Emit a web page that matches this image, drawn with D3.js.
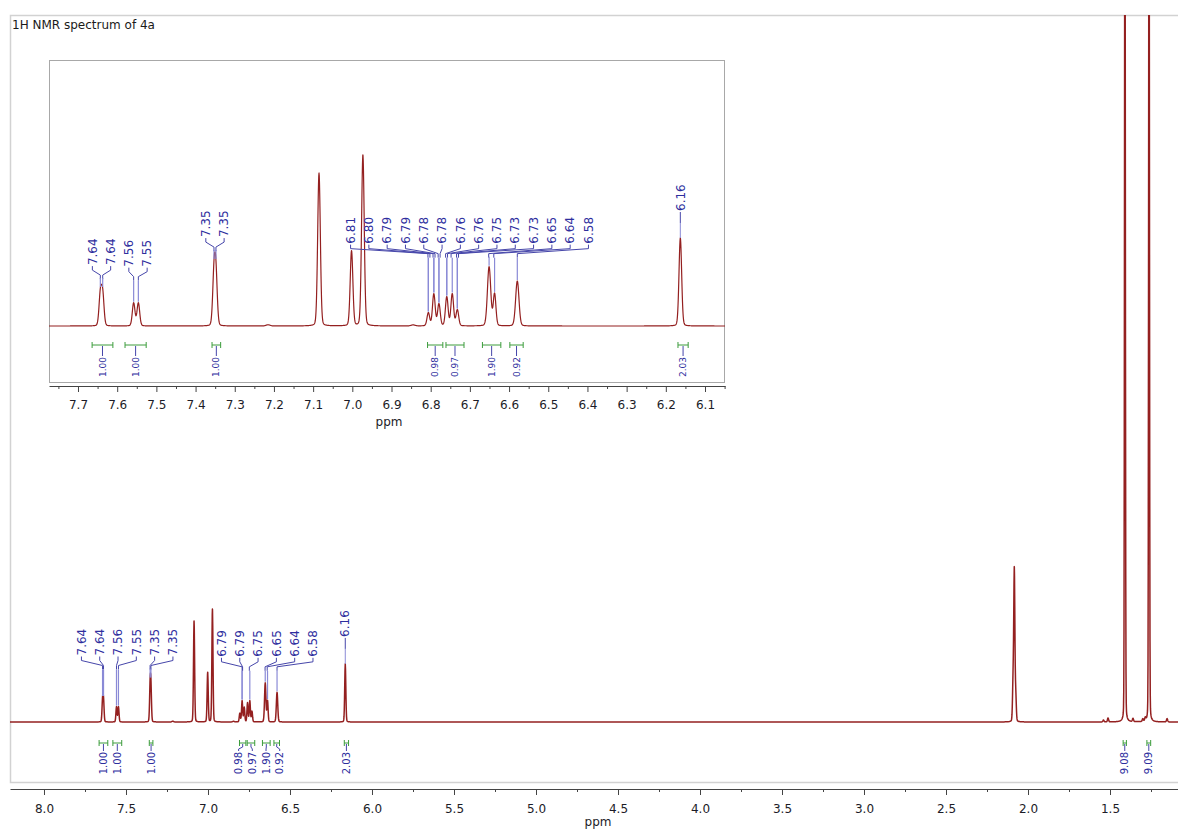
<!DOCTYPE html>
<html>
<head>
<meta charset="utf-8">
<script src="https://cdn.jsdelivr.net/npm/d3@7"></script>
<style>
  body { margin: 0; background: #fff; }
  svg { display: block; font-family: "DejaVu Sans", Verdana, sans-serif; }
</style>
</head>
<body>
<svg id="chart" width="1178" height="830"></svg>
<script>
// ---- 1H NMR of 4a: resonances (shift in ppm, intensity, half width in ppm) ----
const peakShifts  = [7.643, 7.637, 7.558, 7.546, 7.353, 7.348, 7.215, 7.085, 7.002, 6.973,
                     6.845, 6.806, 6.792, 6.779, 6.759, 6.745, 6.732, 6.651, 6.637, 6.579,
                     6.163, 2.091, 2.0835, 2.075, 1.540, 1.512, 1.409, 1.360, 1.300, 1.285,
                     1.262, 1.152];
const peakHeights = [31, 31, 23, 23, 49, 49, 1.2, 153, 75, 171,
                     1, 13, 32, 22, 29, 32, 16, 59, 32, 45,
                     88, 58, 227, 40, 3, 6, 1400, 5, 4, 5,
                     1400, 5];
const peakWidths  = [0.004, 0.004, 0.004, 0.004, 0.004, 0.004, 0.006, 0.004, 0.004, 0.004,
                     0.006, 0.004, 0.004, 0.004, 0.004, 0.004, 0.004, 0.005, 0.004, 0.005,
                     0.004, 0.004, 0.004, 0.004, 0.004, 0.004, 0.003, 0.004, 0.004, 0.004,
                     0.003, 0.004];

// picked peaks (labels) in the expanded aromatic region and in the full spectrum
const insetPicks = [7.643, 7.637, 7.558, 7.546, 7.353, 7.348,
                    6.807, 6.802, 6.794, 6.789, 6.781, 6.776, 6.762, 6.757, 6.748, 6.734, 6.729,
                    6.652, 6.639, 6.579, 6.163];
const mainPicks  = [7.643, 7.637, 7.558, 7.546, 7.353, 7.348,
                    6.792, 6.789, 6.748, 6.652, 6.639, 6.579, 6.163];

// integration regions (ppm from, ppm to) and integral values
const integralFrom   = [7.664, 7.580, 7.358, 6.808, 6.761, 6.668, 6.598, 6.169, 1.420, 1.275];
const integralTo     = [7.611, 7.526, 7.336, 6.769, 6.715, 6.621, 6.564, 6.143, 1.400, 1.252];
const integralValues = [1.00, 1.00, 1.00, 0.98, 0.97, 1.90, 0.92, 2.03, 9.08, 9.09];

// axis ticks
const mainMajorTicks  = [8.0, 7.5, 7.0, 6.5, 6.0, 5.5, 5.0, 4.5, 4.0, 3.5, 3.0, 2.5, 2.0, 1.5];
const mainMinorTicks  = [7.75, 7.25, 6.75, 6.25, 5.75, 5.25, 4.75, 4.25, 3.75, 3.25, 2.75, 2.25, 1.75, 1.25];
const insetMajorTicks = [7.7, 7.6, 7.5, 7.4, 7.3, 7.2, 7.1, 7.0, 6.9, 6.8, 6.7, 6.6, 6.5, 6.4, 6.3, 6.2, 6.1];
const insetMinorTicks = [7.75, 7.65, 7.55, 7.45, 7.35, 7.25, 7.15, 7.05, 6.95, 6.85, 6.75, 6.65, 6.55, 6.45, 6.35, 6.25, 6.15, 6.05];

const titleText = "1H NMR spectrum of 4a";

// ---- colours ----
const C = {
  line: "#942020",
  label: "#2e2e9e",
  leader: "#4646aa",
  leaderLight: "#8a8ad6",
  integral: "#3c9c3c",
  frame: "#d2d2d2",
  insetFrame: "#a8a8a8",
  axis: "#444",
  tickText: "#1c1c28"
};

const svg = d3.select("#chart");

// mostly-Gaussian line shape with a small Lorentzian share
const LORENTZ_SHARE = 0.12;
function intensity(p) {
  let s = 0;
  for (let i = 0; i < peakShifts.length; i++) {
    const d = (p - peakShifts[i]) / peakWidths[i];
    const d2 = d * d;
    s += peakHeights[i] * (LORENTZ_SHARE / (1 + d2) + (1 - LORENTZ_SHARE) * Math.exp(-Math.LN2 * d2));
  }
  return s;
}

function nearestPeak(p) {
  let best = p, bd = 0.006;
  peakShifts.forEach(s => { const d = Math.abs(s - p); if (d < bd) { bd = d; best = s; } });
  return best;
}

function spectrumPoints(x) {
  const [a, b] = x.domain();
  const px = Math.abs(x.range()[1] - x.range()[0]);
  const n = Math.round(px * 4);
  const pts = [];
  for (let i = 0; i <= n; i++) pts.push(a + (b - a) * i / n);
  peakShifts.forEach(s => { if (s <= a && s >= b) pts.push(s); });
  pts.sort((u, v) => v - u);
  return pts.map(p => [p, intensity(p)]);
}

function spread(centers, d) {
  let cl = centers.map(c => ({ sum: c, n: 1 }));
  let changed = true;
  while (changed) {
    changed = false;
    for (let i = 0; i < cl.length - 1; i++) {
      const a = cl[i], b = cl[i + 1];
      const aEnd = a.sum / a.n + (a.n - 1) / 2 * d;
      const bStart = b.sum / b.n - (b.n - 1) / 2 * d;
      if (bStart - aEnd < d - 1e-6) {
        cl.splice(i, 2, { sum: a.sum + b.sum, n: a.n + b.n });
        changed = true;
        break;
      }
    }
  }
  const out = [];
  cl.forEach(c => {
    const m = c.sum / c.n;
    for (let k = 0; k < c.n; k++) out.push(m + (k - (c.n - 1) / 2) * d);
  });
  return out;
}

function drawAxis(g, x, y0, majors, minors, pad, fontSize) {
  const major = d3.axisBottom(x).tickValues(majors).tickSize(6).tickSizeOuter(0)
    .tickPadding(pad).tickFormat(d3.format(".1f"));
  const minor = d3.axisBottom(x).tickValues(minors).tickSize(3).tickSizeOuter(0)
    .tickFormat("");
  const ga = g.append("g").attr("transform", `translate(0,${y0})`).call(major);
  g.append("g").attr("transform", `translate(0,${y0})`).call(minor).select(".domain").remove();
  g.selectAll(".domain").attr("stroke", C.axis);
  g.selectAll(".tick line").attr("stroke", C.axis);
  ga.selectAll("text").attr("fill", C.tickText).attr("font-size", fontSize)
    .attr("font-family", "DejaVu Sans, sans-serif");
}

function drawSpectrum(g, x, y, clipId, width) {
  const line = d3.line().x(d => x(d[0])).y(d => y(d[1]));
  g.append("path").datum(spectrumPoints(x))
    .attr("clip-path", `url(#${clipId})`)
    .attr("fill", "none").attr("stroke", C.line).attr("stroke-width", width)
    .attr("stroke-linejoin", "round")
    .attr("d", line);
}

function drawPicks(g, x, y, picks, groups, spacing, fontSize) {
  let idx = 0;
  groups.forEach(grp => {
    const items = picks.slice(idx, idx + grp.n);
    idx += grp.n;
    const tx = items.map(p => x(p));
    const tops = items.map(p => y(intensity(nearestPeak(p))));
    const minTop = d3.min(tops);
    if (grp.n === 1) {
      const bottom = tops[0] - 27;
      g.append("text")
        .attr("transform", `translate(${tx[0]},${bottom}) rotate(-90)`)
        .attr("dy", "0.35em").attr("text-anchor", "start")
        .attr("font-size", fontSize).attr("fill", C.label).text(items[0].toFixed(2));
      g.append("line").attr("x1", tx[0]).attr("x2", tx[0])
        .attr("y1", bottom + 1).attr("y2", bottom + 12)
        .attr("stroke", C.leader).attr("stroke-width", 1);
      g.append("line").attr("x1", tx[0]).attr("x2", tx[0])
        .attr("y1", bottom + 12).attr("y2", tops[0])
        .attr("stroke", C.leaderLight).attr("stroke-width", 1);
      return;
    }
    const elbow = minTop - 13 - grp.lift;
    const bottom = elbow - 10;
    const center = d3.mean(tx) + grp.shift;
    items.forEach((p, i) => {
      const lx = center + (i - (grp.n - 1) / 2) * spacing;
      g.append("text")
        .attr("transform", `translate(${lx},${bottom}) rotate(-90)`)
        .attr("dy", "0.35em").attr("text-anchor", "start")
        .attr("font-size", fontSize).attr("fill", C.label).text(p.toFixed(2));
      g.append("path")
        .attr("d", `M${lx},${bottom + 1}V${bottom + 5}L${tx[i]},${elbow}V${elbow + 4}`)
        .attr("fill", "none").attr("stroke", C.leader).attr("stroke-width", 1);
      const sx = x(nearestPeak(p));
      g.append("line").attr("x1", sx).attr("x2", sx)
        .attr("y1", Math.min(tops[i] - 10, elbow + 4)).attr("y2", tops[i] - 1)
        .attr("stroke", C.leaderLight).attr("stroke-width", 1.2);
    });
  });
}

function drawIntegrals(g, x, B, textTop, fontSize, minGap) {
  const [a, b] = x.domain();
  const ids = integralFrom.map((_, i) => i).filter(i => integralFrom[i] <= a && integralTo[i] >= b);
  const centers = ids.map(i => (x(integralFrom[i]) + x(integralTo[i])) / 2);
  const pos = spread(centers, minGap);
  ids.forEach((i, k) => {
    const x1 = x(integralFrom[i]), x2 = x(integralTo[i]), c = centers[k], tx = pos[k];
    g.append("path")
      .attr("d", `M${x1},${B}H${x2}M${x1},${B - 3}V${B + 3}M${x2},${B - 3}V${B + 3}`)
      .attr("fill", "none").attr("stroke", C.integral).attr("stroke-width", 1);
    g.append("path")
      .attr("d", `M${c},${B + 1}V${B + 4}L${tx},${B + textTop - 3}V${B + textTop - 1}`)
      .attr("fill", "none").attr("stroke", C.leader).attr("stroke-width", 1);
    g.append("text")
      .attr("transform", `translate(${tx},${B + textTop}) rotate(-90)`)
      .attr("dy", "0.35em").attr("text-anchor", "end")
      .attr("font-size", fontSize).attr("fill", C.label)
      .text(integralValues[i].toFixed(2));
  });
}

// ---- clip paths ----
const defs = svg.append("defs");
defs.append("clipPath").attr("id", "clipMain")
  .append("rect").attr("x", 10).attr("y", 15).attr("width", 1168).attr("height", 768);
defs.append("clipPath").attr("id", "clipInset")
  .append("rect").attr("x", 49).attr("y", 60).attr("width", 676).attr("height", 322);

// ---- full spectrum ----
const xMain = d3.scaleLinear().domain([8.2073, 1.0854]).range([10, 1178]);
const yMain = d3.scaleLinear().domain([0, 1000]).range([722, 62]);

const main = svg.append("g");
main.append("rect").attr("x", 10.5).attr("y", 15.5).attr("width", 1180).attr("height", 767)
  .attr("fill", "#fff").attr("stroke", C.frame).attr("stroke-width", 1.5);
main.append("text").attr("x", 12).attr("y", 29).attr("font-size", 12).attr("fill", "#1a1a1a")
  .text(titleText);

drawSpectrum(main, xMain, yMain, "clipMain", 1.5);
drawPicks(main, xMain, yMain, mainPicks,
  [{ n: 6, shift: 3.5, lift: 0 }, { n: 6, shift: 10, lift: 3 }, { n: 1, shift: 0, lift: 0 }],
  18.3, 12);
drawIntegrals(main, xMain, 743, 9, 10, 13.7);
drawAxis(main, xMain, 789, mainMajorTicks, mainMinorTicks, 9, 12);
main.append("text").attr("x", 598).attr("y", 826).attr("text-anchor", "middle")
  .attr("font-size", 12).attr("fill", C.tickText).text("ppm");

// ---- expanded aromatic region ----
const xInset = d3.scaleLinear().domain([7.774, 6.049]).range([49, 725]);
const yInset = d3.scaleLinear().domain([0, 300]).range([326, 26]);

const inset = svg.append("g");
inset.append("rect").attr("x", 49.5).attr("y", 60.5).attr("width", 675).attr("height", 322)
  .attr("fill", "#fff").attr("stroke", C.insetFrame).attr("stroke-width", 1);
drawSpectrum(inset, xInset, yInset, "clipInset", 1.2);
drawPicks(inset, xInset, yInset, insetPicks,
  [{ n: 2, shift: 0, lift: 0 }, { n: 2, shift: 2, lift: 13 }, { n: 2, shift: 0, lift: 0 },
   { n: 14, shift: 15, lift: 0 }, { n: 1, shift: 0, lift: 0 }],
  18.3, 12);
drawIntegrals(inset, xInset, 345, 12, 9, 13);
drawAxis(inset, xInset, 386, insetMajorTicks, insetMinorTicks, 8, 12);
inset.append("text").attr("x", 389).attr("y", 426).attr("text-anchor", "middle")
  .attr("font-size", 12).attr("fill", C.tickText).text("ppm");
</script>
</body>
</html>
